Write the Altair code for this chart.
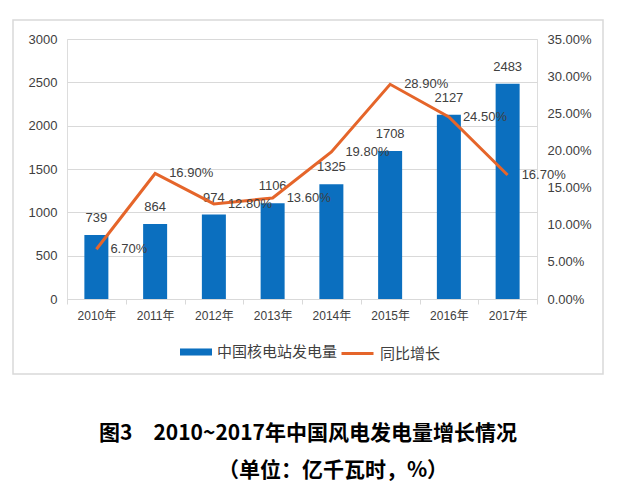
import altair as alt
import pandas as pd

years = ["2010年", "2011年", "2012年", "2013年", "2014年", "2015年", "2016年", "2017年"]
generation = [739, 864, 974, 1106, 1325, 1708, 2127, 2483]
growth = [0.067, 0.169, 0.128, 0.136, 0.198, 0.289, 0.245, 0.167]
bar_series = "中国核电站发电量"
line_series = "同比增长"
left_ticks = [0, 500, 1000, 1500, 2000, 2500, 3000]
right_ticks = [0, 0.05, 0.10, 0.15, 0.20, 0.25, 0.30, 0.35]

title_text = "图3\u30002010~2017年中国风电发电量增长情况"
subtitle_text = "（单位：亿千瓦时，%）"

BLUE = "#0B6FBF"
ORANGE = "#E5652A"
GRID = "#D9D9D9"
TXT = "#404040"
FONT = "Liberation Sans, Noto Sans CJK SC"
TFONT = "Noto Sans CJK SC"

df = pd.DataFrame({
    "year": years,
    "gen": generation,
    "growth": growth,
    "s1": [bar_series] * len(years),
    "s2": [line_series] * len(years),
})

x_enc = alt.X("year:N", sort=years, title=None,
              scale=alt.Scale(paddingInner=0, paddingOuter=0),
              axis=alt.Axis(labelAngle=0, labelFontSize=12, labelColor=TXT, labelFont=FONT,
                            labelPadding=6, domainColor=GRID, tickColor=GRID, tickSize=5,
                            tickBand="extent", grid=False))

y_left = alt.Y("gen:Q", title=None,
               scale=alt.Scale(domain=[0, 3000], nice=False),
               axis=alt.Axis(values=left_ticks, format="d",
                             labelFontSize=13, labelColor=TXT, labelFont=FONT, labelPadding=10,
                             ticks=False, domain=False, gridColor=GRID, gridWidth=1,
                             labelOverlap=False))

y_right = alt.Y("growth:Q", title=None,
                scale=alt.Scale(domain=[0, 0.35], nice=False),
                axis=alt.Axis(orient="right", format=".2%", values=right_ticks,
                              labelFontSize=13, labelColor=TXT, labelFont=FONT, labelPadding=10,
                              ticks=False, domain=False, grid=False, labelOverlap=False))

bars = alt.Chart(df).mark_bar(size=24).encode(
    x=x_enc,
    y=y_left,
    fill=alt.Fill("s1:N", scale=alt.Scale(domain=[bar_series], range=[BLUE]),
                  legend=alt.Legend(title=None, orient="none", legendX=113, legendY=297,
                                    symbolType="M-1,-0.22H1V0.22H-1Z", symbolSize=1024,
                                    symbolStrokeWidth=0, labelFontSize=15, labelColor=TXT,
                                    labelFont=FONT, labelOffset=5, padding=0)),
)
bar_labels = alt.Chart(df).mark_text(dy=-17, baseline="middle", fontSize=13, color=TXT, font=FONT).encode(
    x=x_enc,
    y=y_left,
    text=alt.Text("gen:Q"),
)
left = alt.layer(bars, bar_labels)

line = alt.Chart(df).mark_line(strokeWidth=3).encode(
    x=x_enc,
    y=y_right,
    stroke=alt.Stroke("s2:N", scale=alt.Scale(domain=[line_series], range=[ORANGE]),
                      legend=alt.Legend(title=None, orient="none", legendX=273, legendY=297,
                                        symbolType="stroke", symbolSize=1024,
                                        symbolStrokeWidth=3, labelFontSize=15, labelColor=TXT,
                                        labelFont=FONT, labelOffset=5, padding=0)),
)
line_labels = alt.Chart(df).mark_text(align="left", dx=14, baseline="middle", fontSize=13,
                                      color=TXT, font=FONT).encode(
    x=x_enc,
    y=y_right,
    text=alt.Text("growth:Q", format=".2%"),
)
right = alt.layer(line, line_labels)

frame = alt.Chart(pd.DataFrame({"k": [0]})).mark_rect(filled=False, stroke=GRID, strokeWidth=1.5).encode(
    x=alt.value(-54), x2=alt.value(536), y=alt.value(-19), y2=alt.value(335)
)

titles = pd.DataFrame({"t": [title_text]})
subtitles = pd.DataFrame({"t": [subtitle_text]})
title_mark = alt.Chart(titles).mark_text(fontSize=21, fontWeight="bold", font=TFONT, color="#000000",
                                         align="center", baseline="middle").encode(
    text="t:N", x=alt.value(241), y=alt.value(395)
)
subtitle_mark = alt.Chart(subtitles).mark_text(fontSize=21, fontWeight="bold", font=TFONT, color="#000000",
                                               align="center", baseline="middle").encode(
    text="t:N", x=alt.value(266), y=alt.value(432)
)

chart = alt.layer(frame, left, right, title_mark, subtitle_mark).resolve_scale(
    y="independent", fill="independent", stroke="independent"
).properties(
    width=470,
    height=260,
    autosize=alt.AutoSizeParams(type="none"),
    padding={"left": 59, "top": 31, "right": 84, "bottom": 192},
).configure_view(stroke=None).configure(background="white")

chart.save("out.html", embed_options={"renderer": "svg", "actions": False})
